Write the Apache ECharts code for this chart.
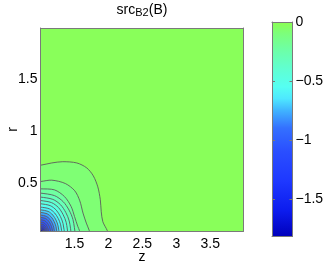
<!DOCTYPE html>
<html><head><meta charset="utf-8">
<script src="https://cdn.jsdelivr.net/npm/echarts@6/dist/echarts.min.js"></script>
<style>html,body{margin:0;padding:0;background:#fff}#c{width:327px;height:265px}</style>
</head><body><div id="c"></div>
<script>
// axis ranges and ticks
const zRange = [1, 3.99];
const rRange = [0.045, 1.99];
const zTicks = [1.5, 2, 2.5, 3, 3.5];
const rTicks = [0.5, 1, 1.5];
const cbRange = [-1.82, 0];
const cbTicks = [0, -0.5, -1, -1.5];

// title pieces
const titleMain = 'src';
const titleSub = 'B2';
const titleTail = '(B)';

// colormap (value -> colour)
const cmapVals = [0, -0.1, -0.25, -0.4, -0.55, -0.65, -0.75, -0.9, -1.1, -1.35, -1.6, -1.82];
const cmapCols = ['#8cff52', '#7cff7c', '#6cffaa', '#60ffd2', '#55fff2', '#4ee8ff', '#40b4ff', '#3470ff', '#2a4eff', '#1e38ff', '#0c1cee', '#0000bb'];

// value of the region outside every contour
const backgroundValue = -0.02;

// contour lines, [z, r] points (outermost first)
const c01 = [[1.0,0.675],[1.166,0.697],[1.328,0.709],[1.535,0.697],[1.682,0.649],[1.778,0.573],[1.844,0.468],[1.881,0.344],[1.895,0.229],[1.918,0.134],[1.984,0.048],[2.0,0.0]];
const c02 = [[1.0,0.519],[1.166,0.532],[1.365,0.500],[1.505,0.430],[1.579,0.334],[1.626,0.217],[1.675,0.121],[1.719,0.048],[1.74,0.0]];
const c03 = [[1.0,0.449],[1.206,0.439],[1.353,0.375],[1.451,0.280],[1.501,0.184],[1.549,0.089],[1.574,0.048],[1.58,0.0]];
const c04 = [[1,0.408],[1.206,0.384],[1.334,0.326],[1.421,0.245],[1.478,0.155],[1.514,0]];
const c05 = [[1,0.370],[1.182,0.348],[1.296,0.296],[1.373,0.222],[1.423,0.141],[1.455,0]];
const c06 = [[1,0.337],[1.162,0.317],[1.264,0.270],[1.333,0.202],[1.378,0.128],[1.406,0]];
const c07 = [[1,0.306],[1.143,0.288],[1.232,0.245],[1.293,0.184],[1.332,0.116],[1.357,0]];
const c08 = [[1,0.274],[1.128,0.258],[1.207,0.219],[1.262,0.164],[1.297,0.104],[1.319,0]];
const c09 = [[1,0.248],[1.112,0.233],[1.181,0.198],[1.229,0.149],[1.259,0.094],[1.279,0]];
const c10 = [[1,0.223],[1.098,0.210],[1.160,0.178],[1.202,0.134],[1.229,0.085],[1.246,0]];
const c11 = [[1,0.198],[1.085,0.186],[1.138,0.158],[1.174,0.119],[1.197,0.075],[1.212,0]];
const c12 = [[1,0.175],[1.074,0.165],[1.120,0.140],[1.151,0.105],[1.171,0.067],[1.184,0]];
const c13 = [[1,0.153],[1.062,0.144],[1.101,0.122],[1.127,0.092],[1.144,0.058],[1.155,0]];
const c14 = [[1,0.131],[1.051,0.123],[1.083,0.105],[1.104,0.079],[1.118,0.050],[1.127,0]];
const c15 = [[1,0.112],[1.043,0.105],[1.070,0.090],[1.089,0.067],[1.100,0.043],[1.108,0]];
const c16 = [[1,0.095],[1.037,0.089],[1.060,0.076],[1.075,0.057],[1.086,0.036],[1.092,0]];
const c17 = [[1,0.080],[1.031,0.075],[1.051,0.064],[1.064,0.048],[1.073,0.030],[1.078,0]];
const c18 = [[1,0.067],[1.026,0.063],[1.043,0.054],[1.054,0.040],[1.061,0.025],[1.066,0]];
const c19 = [[1,0.058],[1.022,0.055],[1.036,0.046],[1.046,0.035],[1.052,0.022],[1.056,0]];
const contourLines = [c01,c02,c03,c04,c05,c06,c07,c08,c09,c10,c11,c12,c13,c14,c15,c16,c17,c18,c19];

// value of the region just inside each contour line
const fillValues = [-0.08,-0.14,-0.22,-0.3,-0.38,-0.46,-0.54,-0.62,-0.7,-0.78,-0.87,-0.96,-1.06,-1.17,-1.28,-1.4,-1.52,-1.64,-1.76];

function hexToRgb(h){return [parseInt(h.slice(1,3),16),parseInt(h.slice(3,5),16),parseInt(h.slice(5,7),16)];}
function colorAt(v){
  if (v >= cmapVals[0]) return cmapCols[0];
  for (let i = 1; i < cmapVals.length; i++) {
    if (v >= cmapVals[i]) {
      const t = (cmapVals[i-1] - v) / (cmapVals[i-1] - cmapVals[i]);
      const a = hexToRgb(cmapCols[i-1]), b = hexToRgb(cmapCols[i]);
      return 'rgb(' + a.map((x,k)=>Math.round(x + (b[k]-x)*t)).join(',') + ')';
    }
  }
  return cmapCols[cmapCols.length-1];
}

const FONT = '"Liberation Sans", Arial, Helvetica, sans-serif';
const FRAME = '#7a7a7a';
const minus = v => String(v).replace('-', '\u2212');

// title layout (measured text widths)
const mctx = document.createElement('canvas').getContext('2d');
function textW(t, size){ mctx.font = size + 'px ' + FONT; return mctx.measureText(t).width; }
const TMAIN = 14, TSUB = 11, TITLE_CX = 142;
const w1 = textW(titleMain, TMAIN), w2 = textW(titleSub, TSUB), w3 = textW(titleTail, TMAIN);
const tx0 = TITLE_CX - (w1 + w2 + w3) / 2;

function frameAxis(extra){
  return Object.assign({
    type:'value', z:10,
    axisLine:{show:true, onZero:false, lineStyle:{color:FRAME, width:1}},
    axisTick:{show:false}, axisLabel:{show:false}, splitLine:{show:false}
  }, extra);
}

const chart = echarts.init(document.getElementById('c'), null, {renderer:'canvas'});
chart.setOption({
  animation:false,
  backgroundColor:'#fff',
  graphic:[
    {type:'text', x:tx0, y:9.9, style:{text:titleMain, font:TMAIN+'px '+FONT, fill:'#000', align:'left', verticalAlign:'middle'}},
    {type:'text', x:tx0+w1, y:13.4, style:{text:titleSub, font:TSUB+'px '+FONT, fill:'#000', align:'left', verticalAlign:'middle'}},
    {type:'text', x:tx0+w1+w2, y:9.9, style:{text:titleTail, font:TMAIN+'px '+FONT, fill:'#000', align:'left', verticalAlign:'middle'}}
  ],
  grid:[
    {left:40.5, top:28, width:203, height:203, show:true, backgroundColor:colorAt(backgroundValue), borderWidth:0, containLabel:false, outerBoundsMode:'none'},
    {left:272, top:22, width:20.5, height:214.5, show:false, containLabel:false, outerBoundsMode:'none'}
  ],
  xAxis:[
    frameAxis({gridIndex:0, position:'bottom', min:zRange[0], max:zRange[1],
      name:'z', nameLocation:'middle', nameGap:19, nameMoveOverlap:false,
      nameTextStyle:{fontFamily:FONT, fontSize:14, color:'#000'},
      axisLabel:{show:true, customValues:zTicks, margin:6, fontFamily:FONT, fontSize:14, color:'#000'}}),
    frameAxis({gridIndex:0, position:'top', min:zRange[0], max:zRange[1]}),
    frameAxis({gridIndex:1, position:'bottom', min:0, max:1}),
    frameAxis({gridIndex:1, position:'top', min:0, max:1})
  ],
  yAxis:[
    frameAxis({gridIndex:0, position:'left', min:rRange[0], max:rRange[1],
      name:'r', nameLocation:'middle', nameGap:20, nameMoveOverlap:false,
      nameTextStyle:{fontFamily:FONT, fontSize:14, color:'#000'},
      axisLabel:{show:true, customValues:rTicks, margin:3, fontFamily:FONT, fontSize:14, color:'#000'}}),
    frameAxis({gridIndex:0, position:'right', min:rRange[0], max:rRange[1]}),
    frameAxis({gridIndex:1, position:'left', min:cbRange[0], max:cbRange[1],
      axisTick:{show:true, inside:true, length:3, customValues:cbTicks, lineStyle:{color:FRAME}}}),
    frameAxis({gridIndex:1, position:'right', min:cbRange[0], max:cbRange[1],
      axisTick:{show:true, inside:true, length:3, customValues:cbTicks, lineStyle:{color:FRAME}},
      axisLabel:{show:true, customValues:cbTicks, margin:3, fontFamily:FONT, fontSize:14, color:'#000', formatter:minus}})
  ],
  series:[
    {
      type:'custom', xAxisIndex:0, yAxisIndex:0, clip:true, z:2,
      data: contourLines.map((c,i)=>[i]),
      renderItem(params, api){
        const i = api.value(0);
        const pts = contourLines[i];
        const ext = [[zRange[0]-0.05, pts[0][1]]].concat(pts, [[pts[pts.length-1][0], -0.05]]);
        const px = ext.map(p=>api.coord(p));
        const corner = api.coord([zRange[0]-0.05, -0.05]);
        return {type:'group', children:[
          {type:'polygon', shape:{points:px.concat([corner]), smooth:0.3}, style:{fill:colorAt(fillValues[i]), stroke:null}},
          {type:'polyline', shape:{points:px, smooth:0.3}, style:{stroke:'#5c5c5c', lineWidth:0.9, fill:null}}
        ]};
      }
    },
    {
      type:'custom', xAxisIndex:2, yAxisIndex:2, z:2,
      data:[[0]],
      renderItem(params, api){
        const p0 = api.coord([0, cbRange[1]]);
        const p1 = api.coord([1, cbRange[0]]);
        const span = cbRange[1]-cbRange[0];
        const stops = cmapVals.map((v,i)=>({offset:(cbRange[1]-v)/span, color:cmapCols[i]}));
        return {type:'rect', shape:{x:p0[0], y:p0[1], width:p1[0]-p0[0], height:p1[1]-p0[1]},
          style:{fill:{type:'linear', x:0, y:0, x2:0, y2:1, colorStops:stops}}};
      }
    }
  ]
});
</script></body></html>
